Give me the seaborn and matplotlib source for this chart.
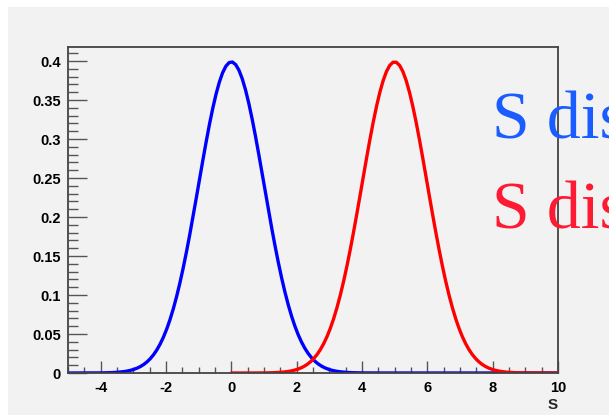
import numpy as np
import pandas as pd
import seaborn as sns
import matplotlib
matplotlib.use("Agg")
import matplotlib.pyplot as plt
from matplotlib.patches import Rectangle
from matplotlib.ticker import MultipleLocator

# Two unit-width normal densities of the variable S
series_names = ["S dis_sig", "S dis_bkg"]
means = [0.0, 5.0]
sigmas = [1.0, 1.0]
x_ranges = [(-5.0, 10.0), (0.0, 10.0)]
n_points = [150, 100]
line_colors = ["#0000ff", "#ff0000"]
legend_texts = ["S distribution", "S distribution"]
legend_colors = ["#1a5cff", "#ff1a33"]

x_ticks = [-4, -2, 0, 2, 4, 6, 8, 10]
y_ticks = [0, 0.05, 0.1, 0.15, 0.2, 0.25, 0.3, 0.35, 0.4]
y_tick_labels = ["0", "0.05", "0.1", "0.15", "0.2", "0.25", "0.3", "0.35", "0.4"]

frames = []
for name, mu, sd, (lo, hi), n in zip(series_names, means, sigmas, x_ranges, n_points):
    s = np.linspace(lo, hi, n)
    d = np.exp(-0.5 * ((s - mu) / sd) ** 2) / (sd * np.sqrt(2 * np.pi))
    frames.append(pd.DataFrame({"S": s, "density": d, "series": name}))
df = pd.concat(frames, ignore_index=True)

sns.set_theme(style="white")
plt.rcParams["font.family"] = ["Liberation Sans", "DejaVu Sans"]
plt.rcParams["axes.unicode_minus"] = False

W, H = 609, 415
fig = plt.figure(figsize=(W / 100, H / 100), dpi=100)
fig.patch.set_facecolor("white")
# grey canvas pad
fig.patches.append(Rectangle((8 / W, 0), 1, 1 - 7 / H, transform=fig.transFigure,
                             facecolor="#f2f2f2", edgecolor="none", zorder=-10))

ax = fig.add_axes([68 / W, (H - 373) / H, (558 - 68) / W, (373 - 47) / H])
ax.set_zorder(1)
ax.set_facecolor("#f2f2f2")

sns.lineplot(data=df, x="S", y="density", hue="series", palette=line_colors,
             linewidth=2.4, ax=ax, legend=False, sort=False)

ax.set_xlim(-5, 10)
ax.set_ylim(0, 0.418)
ax.set_xticks(x_ticks)
ax.xaxis.set_minor_locator(MultipleLocator(0.5))
ax.set_yticks(y_ticks)
ax.set_yticklabels(y_tick_labels)
ax.yaxis.set_minor_locator(MultipleLocator(0.01))

ax.tick_params(axis="both", which="both", direction="in", colors="#555555",
               labelcolor="black", labelsize=10.5, bottom=True, left=True,
               top=False, right=False)
ax.tick_params(axis="x", which="major", length=9, width=1, pad=6)
ax.tick_params(axis="x", which="minor", length=4.5, width=1)
ax.tick_params(axis="y", which="major", length=14, width=1, pad=5)
ax.tick_params(axis="y", which="minor", length=7, width=1)
for lab in ax.get_xticklabels() + ax.get_yticklabels():
    lab.set_fontweight("bold")

for sp in ax.spines.values():
    sp.set_color("#444444")
    sp.set_linewidth(1.3)

ax.set_xlabel("S", loc="right", fontweight="bold", fontsize=11, labelpad=2)
ax.set_ylabel("")

for txt, col, yb in zip(legend_texts, legend_colors, [138, 228]):
    fig.text(492 / W, (H - yb) / H, txt, color=col, fontsize=49,
             family="Liberation Serif", ha="left", va="baseline", zorder=5)

fig.savefig("out.png", dpi=100, facecolor=fig.get_facecolor())
